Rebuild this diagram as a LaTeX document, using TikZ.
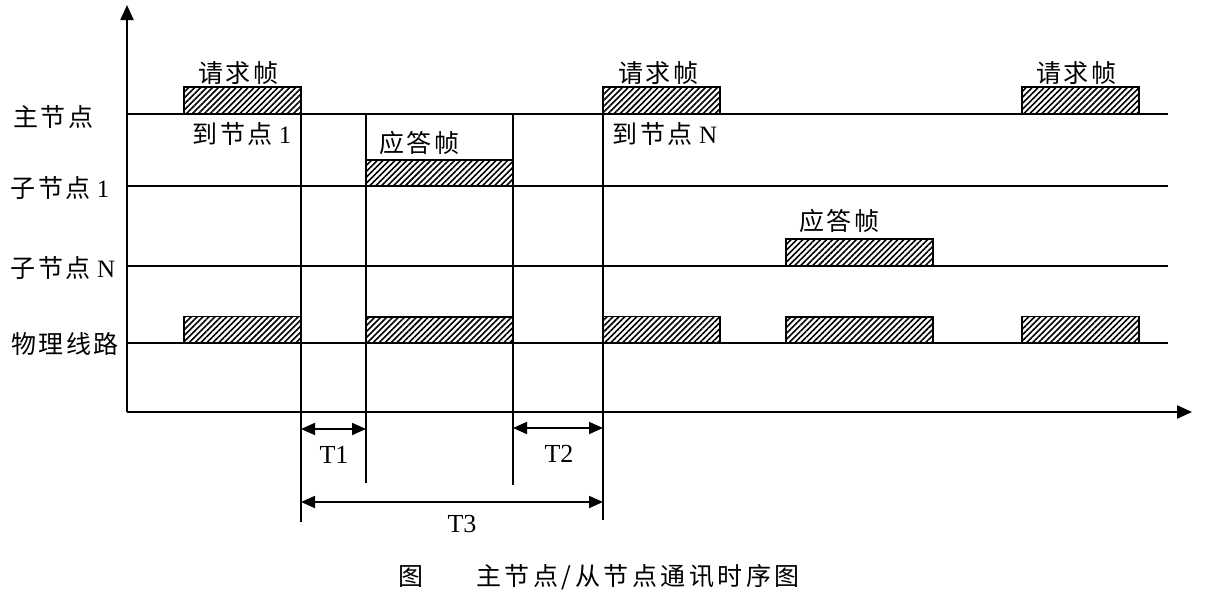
\documentclass[tikz,border=0pt]{standalone}
\usepackage{fontspec}
\setmainfont{Liberation Serif}
\newfontfamily\cjk[LetterSpace=10]{Noto Sans CJK SC}
\newfontfamily\cjkcap[LetterSpace=14]{Noto Sans CJK SC}
\usetikzlibrary{patterns.meta,arrows.meta}
\begin{document}
\begin{tikzpicture}[x=1pt,y=-1pt,
  frame/.style={draw, line width=1.8pt, pattern={Lines[angle=45,distance=4.2pt,line width=1.6pt]}, inner sep=0pt, outer sep=0pt},
  reqbox/.style={frame, minimum width=117pt, minimum height=27pt},
  ansbox/.style={frame, minimum width=147pt, minimum height=26.5pt},
  lane/.style={line width=1.4pt},
  vline/.style={line width=1.4pt},
  axis/.style={line width=2.2pt, -{Triangle[length=15pt,width=13pt]}},
  dim/.style={line width=1.8pt, {Triangle[length=14pt,width=12pt]}-{Triangle[length=14pt,width=12pt]}},
  lbl/.style={font=\fontsize{25}{25}\selectfont, inner sep=0pt},
]
\useasboundingbox (0,0) rectangle (1206,603);
% axes
\coordinate (O) at (127,412);
\coordinate (Ytop) at (127,5);
\coordinate (Xend) at (1192,412);
\draw[axis] (O) -- (Ytop);
\draw[axis] (O) -- (Xend);
% lanes
\coordinate (L1a) at (127,114); \coordinate (L1b) at (1168,114);
\coordinate (L2a) at (127,186); \coordinate (L2b) at (1168,186);
\coordinate (L3a) at (127,266); \coordinate (L3b) at (1168,266);
\coordinate (L4a) at (127,343); \coordinate (L4b) at (1168,343);
\draw[lane] (L1a) -- (L1b);
\draw[lane] (L2a) -- (L2b);
\draw[lane] (L3a) -- (L3b);
\draw[lane] (L4a) -- (L4b);
% boxes
\node[reqbox] (m1) at (242.5,100.5) {};
\node[reqbox] (m2) at (661.5,100.5) {};
\node[reqbox] (m3) at (1080.5,100.5) {};
\node[ansbox] (s1) at (439.5,173) {};
\node[ansbox] (sN) at (859.5,252.5) {};
\node[reqbox] (p1) at (242.5,330) {};
\node[ansbox] (p2) at (439.5,330) {};
\node[reqbox] (p3) at (661.5,330) {};
\node[ansbox] (p4) at (859.5,330) {};
\node[reqbox] (p5) at (1080.5,330) {};
% vertical timing lines
\coordinate (V1b) at (301,522);
\coordinate (V2t) at (366,114); \coordinate (V2b) at (366,483);
\coordinate (V3t) at (513,114); \coordinate (V3b) at (513,485);
\coordinate (V4b) at (603,520);
\draw[vline] (m1.north east) -- (V1b);
\draw[vline] (V2t) -- (V2b);
\draw[vline] (V3t) -- (V3b);
\draw[vline] (m2.north west) -- (V4b);
% dimension arrows
\coordinate (T1a) at (301,429); \coordinate (T1b) at (366,429);
\coordinate (T2a) at (513,428); \coordinate (T2b) at (603,428);
\coordinate (T3a) at (301,502); \coordinate (T3b) at (603,502);
\draw[dim] (T1a) -- (T1b);
\draw[dim] (T2a) -- (T2b);
\draw[dim] (T3a) -- (T3b);
\node[lbl, font=\fontsize{26}{26}\selectfont] (t1) at (334,455) {T1};
\node[lbl, font=\fontsize{26}{26}\selectfont] (t2) at (559,454) {T2};
\node[lbl, font=\fontsize{26}{26}\selectfont] (t3) at (462,524) {T3};
% frame labels
\node[lbl] (r1) at (238,73) {\cjk 请求帧};
\node[lbl] (r2) at (658,73) {\cjk 请求帧};
\node[lbl] (r3) at (1076,73) {\cjk 请求帧};
\node[lbl] (d1) at (242,134) {{\cjk 到节点} 1};
\node[lbl] (dN) at (665,134) {{\cjk 到节点} N};
\node[lbl] (a1) at (419,143) {\cjk 应答帧};
\node[lbl] (aN) at (839,221) {\cjk 应答帧};
% lane labels
\node[lbl] (n1) at (53,117) {\cjk 主节点};
\node[lbl] (n2) at (60,188) {{\cjk 子节点} 1};
\node[lbl] (n3) at (63,268) {{\cjk 子节点} N};
\node[lbl] (n4) at (65,344) {\cjk 物理线路};
% caption
\node[lbl] (c1) at (411,577) {\cjk 图};
\node[lbl] (c2) at (638,577) {\cjkcap 主节点/从节点通讯时序图};
\end{tikzpicture}
\end{document}
